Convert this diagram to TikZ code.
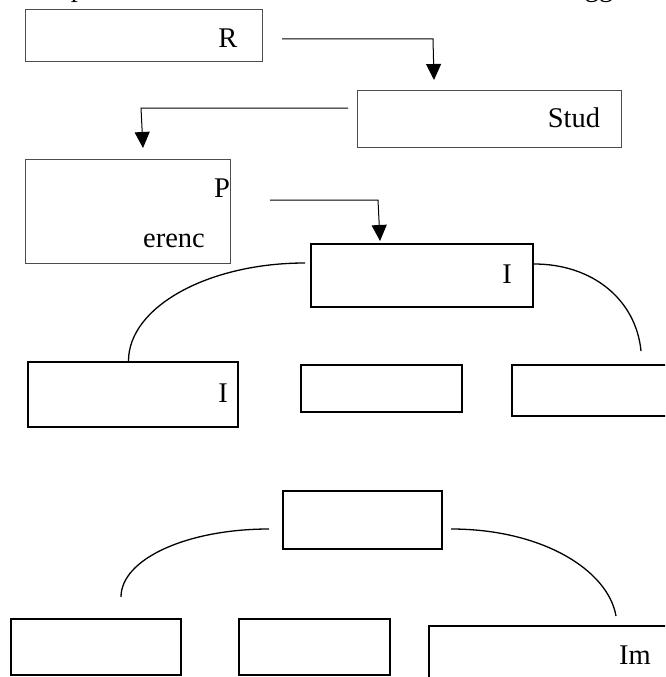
\documentclass[tikz,border=0pt]{standalone}
\usepackage{fontspec}
\setmainfont{Liberation Serif}
\usetikzlibrary{arrows.meta}
\tikzset{
  lightbox/.style={draw=black!70, line width=1pt, inner sep=0pt, outer sep=0pt},
  darkbox/.style={draw=black, line width=1.4pt, inner sep=0pt, outer sep=0pt},
  txt/.style={inner sep=0pt, outer sep=0pt, anchor=base, font=\fontsize{28.5}{30}\selectfont},
  flow/.style={draw=black, line width=1pt, -{Triangle[width=15pt,length=16pt]}},
  branch/.style={draw=black, line width=1.3pt}
}
\begin{document}
\begin{tikzpicture}[x=1pt,y=-1pt]
\useasboundingbox (0,0) rectangle (665,677);
\fill[white] (0,0) rectangle (665,677);
\begin{scope}
\clip (0,0) rectangle (665,677);
% partial text line at the top
\node[txt] (tp) at (78,-3) {p};
\node[txt] (tgg) at (599,-3) {gg};
% top boxes
\node[lightbox, minimum width=237pt, minimum height=52pt] (bR) at (143.5,36) {};
\node[lightbox, minimum width=264pt, minimum height=57pt] (bStud) at (489,118.5) {};
\node[lightbox, minimum width=205pt, minimum height=104pt] (bP) at (127.5,211) {};
\node[txt] (tR) at (228,48) {R};
\node[txt] (tStud) at (574,127) {Stud};
\node[txt] (tP) at (222,197) {P};
\node[txt] (tErenc) at (174,247) {erenc};
% middle tree
\node[darkbox, minimum width=222pt, minimum height=63pt] (bI1) at (422,275.5) {};
\node[txt] (tI1) at (507,283) {I};
\node[darkbox, minimum width=210pt, minimum height=65pt] (bI2) at (133,394.5) {};
\node[txt] (tI2) at (223,402) {I};
\node[darkbox, minimum width=161pt, minimum height=47pt] (bM2) at (381.5,388.5) {};
\node[darkbox, minimum width=188pt, minimum height=51pt] (bR2) at (606,390.5) {};
% bottom tree
\node[darkbox, minimum width=159pt, minimum height=58pt] (bT3) at (362.5,520) {};
\node[darkbox, minimum width=170pt, minimum height=56pt] (bL3) at (96,647) {};
\node[darkbox, minimum width=151pt, minimum height=56pt] (bM3) at (314.5,647) {};
\node[darkbox, minimum width=271pt, minimum height=94pt] (bR3) at (564.5,673) {};
\node[txt] (tIm) at (635,664) {Im};
% connector end points
\coordinate (a1s) at (282,39);
\coordinate (a1c) at (433,39);
\coordinate (a1e) at (434,80);
\coordinate (a2s) at (348,108);
\coordinate (a2c) at (141,108);
\coordinate (a2e) at (143,148);
\coordinate (a3s) at (270,200);
\coordinate (a3c) at (378,200);
\coordinate (a3e) at (380,241);
\coordinate (c1s) at (305,263);
\coordinate (c1e) at (128.5,361);
\coordinate (c2s) at (534,264);
\coordinate (c2e) at (641,351);
\coordinate (c3s) at (269,529);
\coordinate (c3e) at (121,597);
\coordinate (c4s) at (451,529);
\coordinate (c4e) at (616,616);
% arrows
\draw[flow] (a1s) -- (a1c) -- (a1e);
\draw[flow] (a2s) -- (a2c) -- (a2e);
\draw[flow] (a3s) -- (a3c) -- (a3e);
% branches
\draw[branch] (c1s) .. controls (208,263) and (128.5,307) .. (c1e);
\draw[branch] (c2s) .. controls (593,264) and (636,300) .. (c2e);
\draw[branch] (c3s) .. controls (187,529) and (121,559) .. (c3e);
\draw[branch] (c4s) .. controls (542,529) and (608,570) .. (c4e);
\end{scope}
\end{tikzpicture}
\end{document}
